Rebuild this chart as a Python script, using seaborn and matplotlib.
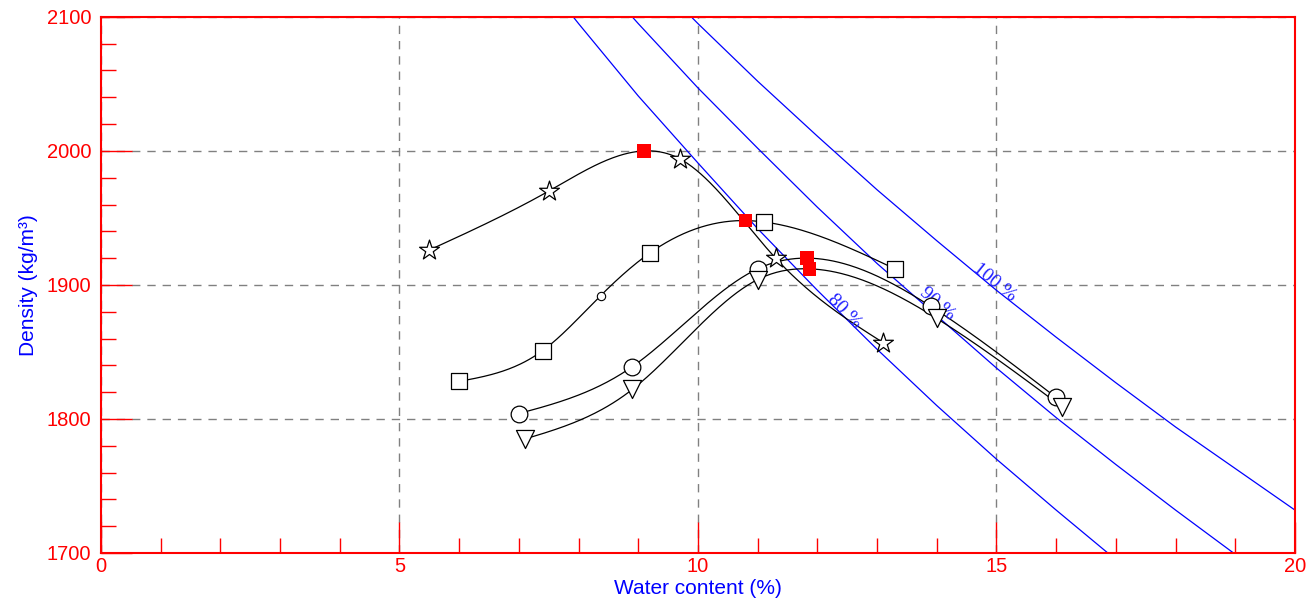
import numpy as np
import pandas as pd
import matplotlib
matplotlib.use('Agg')
import matplotlib.pyplot as plt
import seaborn as sns
from matplotlib.ticker import MultipleLocator

# compaction tests: water content (%) and dry density (kg/m3)
star_w = [5.5, 7.5, 9.7, 11.3, 13.1]
star_d = [1926, 1970, 1994, 1920, 1857]
square_w = [6.0, 7.4, 9.2, 11.1, 13.3]
square_d = [1828, 1851, 1924, 1947, 1912]
circle_w = [7.0, 8.9, 11.0, 13.9, 16.0]
circle_d = [1804, 1839, 1912, 1884, 1816]
tri_w = [7.1, 8.9, 11.0, 14.0, 16.1]
tri_d = [1785, 1822, 1904, 1875, 1809]

# optimum points (red squares)
opt_w = [9.1, 10.8, 11.83, 11.87]
opt_d = [2000, 1948, 1920, 1912]

# extra point on the square curve
extra_w = [8.37]
extra_d = [1892]

# saturation lines
sat_w = [7, 8, 9, 10, 11, 12, 13, 14, 15, 16, 17, 18, 19, 20]
sat80 = [2151, 2095, 2041, 1991, 1942, 1896, 1852, 1810, 1770, 1732, 1695, None, None, None]
sat90 = [2197, 2145, 2095, 2047, 2002, 1958, 1916, 1877, 1838, 1801, 1766, 1732, 1699, None]
sat100 = [None, 2190, 2140, 2095, 2052, 2011, 1971, 1933, 1896, 1861, 1827, 1794, 1763, 1732]


def smooth(x, y, n=300):
    # natural cubic spline through the measured points
    x = np.asarray(x, float)
    y = np.asarray(y, float)
    m = len(x)
    h = np.diff(x)
    A = np.zeros((m, m))
    b = np.zeros(m)
    A[0, 0] = A[-1, -1] = 1
    for k in range(1, m - 1):
        A[k, k - 1] = h[k - 1]
        A[k, k] = 2 * (h[k - 1] + h[k])
        A[k, k + 1] = h[k]
        b[k] = 6 * ((y[k + 1] - y[k]) / h[k] - (y[k] - y[k - 1]) / h[k - 1])
    M = np.linalg.solve(A, b)
    xs = np.linspace(x[0], x[-1], n)
    i = np.clip(np.searchsorted(x, xs) - 1, 0, m - 2)
    a = x[i + 1] - xs
    c = xs - x[i]
    hi = h[i]
    ys = (M[i] * a**3 + M[i + 1] * c**3) / (6 * hi) \
        + (y[i] / hi - M[i] * hi / 6) * a + (y[i + 1] / hi - M[i + 1] * hi / 6) * c
    return xs, ys


sns.set_style('white')
plt.rcParams['font.family'] = ['Liberation Sans', 'DejaVu Sans']

fig, ax = plt.subplots(figsize=(13.16, 6.03), dpi=100)
fig.subplots_adjust(left=0.0767, right=0.984, top=0.972, bottom=0.083)

sat = pd.DataFrame({'w': sat_w, '80': sat80, '90': sat90, '100': sat100})
for col in ['80', '90', '100']:
    part = sat[['w', col]].dropna()
    sns.lineplot(x=part['w'], y=part[col], ax=ax, color='#0000ff', lw=0.9, sort=False)

curves = [
    (star_w, star_d, [opt_w[0]], [opt_d[0]], '*', 15),
    (square_w, square_d, [opt_w[1]] + extra_w, [opt_d[1]] + extra_d, 's', 11.5),
    (circle_w, circle_d, [opt_w[2]], [opt_d[2]], 'o', 12),
    (tri_w, tri_d, [opt_w[3]], [opt_d[3]], 'v', 13),
]
for w, d, ew, ed, mk, ms in curves:
    pts = sorted(zip(list(w) + ew, list(d) + ed))
    xs, ys = smooth([p[0] for p in pts], [p[1] for p in pts])
    ax.plot(xs, ys, color='black', lw=0.9, zorder=3)
    sns.scatterplot(x=w, y=d, ax=ax, marker=mk, s=ms**2, facecolor='white',
                    edgecolor='black', linewidth=0.9, zorder=4)

sns.scatterplot(x=extra_w, y=extra_d, ax=ax, marker='o', s=36, facecolor='white',
                edgecolor='black', linewidth=0.8, zorder=4)
sns.scatterplot(x=opt_w, y=opt_d, ax=ax, marker='s', s=95, color='#ff0000',
                edgecolor='none', zorder=5)

lab = dict(color='#2020ff', fontsize=14, family=['Liberation Serif', 'DejaVu Serif'],
           ha='center', va='center')
ax.text(12.45, 1880, '80 %', rotation=-46, **lab)
ax.text(14.0, 1886, '90 %', rotation=-41, **lab)
ax.text(14.97, 1902, '100 %', rotation=-39, **lab)

ax.set_xlim(0, 20)
ax.set_ylim(1700, 2100)
ax.xaxis.set_major_locator(MultipleLocator(5))
ax.xaxis.set_minor_locator(MultipleLocator(1))
ax.yaxis.set_major_locator(MultipleLocator(100))
ax.yaxis.set_minor_locator(MultipleLocator(20))
ax.tick_params(which='both', direction='in', colors='#ff0000', labelsize=14.5,
               bottom=True, left=True, top=False, right=False, width=1)
ax.tick_params(which='major', length=22)
ax.tick_params(which='minor', length=11)
ax.tick_params(axis='x', which='major', pad=3)
ax.tick_params(axis='y', which='major', pad=7)

ax.grid(True, which='major', color='#808080', ls=(0, (6, 5)), lw=1)
for s in ax.spines.values():
    s.set_color('#ff0000')
    s.set_linewidth(1.5)

ax.set_xlabel('Water content (%)', color='#0000ff', fontsize=15, labelpad=2)
ax.set_ylabel('Density (kg/m³)', color='#0000ff', fontsize=15, labelpad=6)

fig.savefig('out.png', dpi=100)
